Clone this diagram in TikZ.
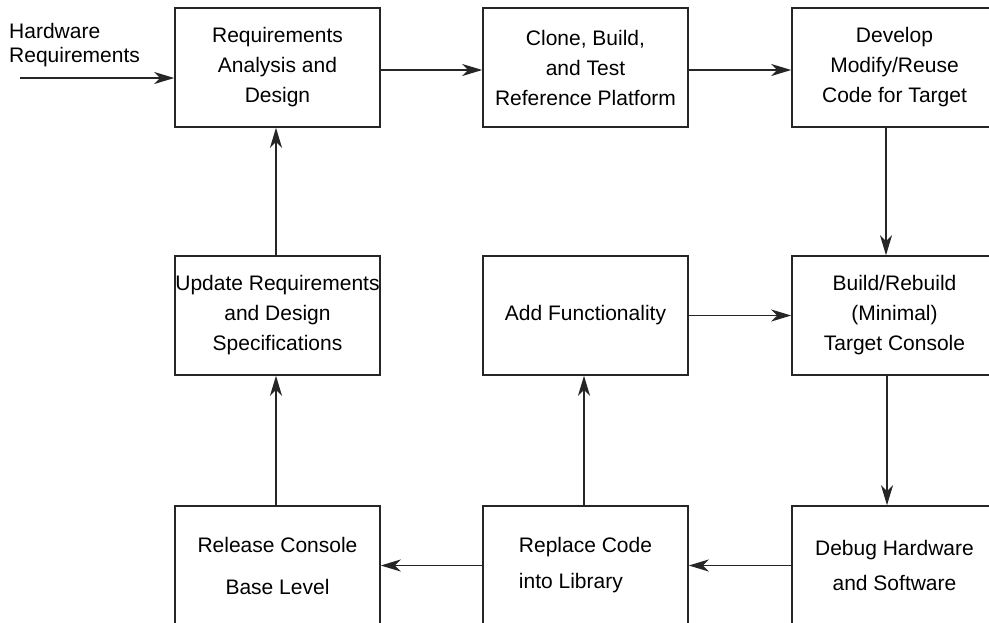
\documentclass[tikz,border=0pt]{standalone}
\usepackage{fontspec}
\setmainfont{Liberation Sans}
\usetikzlibrary{arrows.meta}
\begin{document}
\begin{tikzpicture}[x=1pt,y=-1pt,
  stage/.style={draw=black!85, line width=1.5pt, minimum width=205pt,
    minimum height=119pt, inner sep=0pt, align=center,
    font=\fontsize{21}{30}\selectfont},
  flow/.style={draw=black!85, line width=1.5pt,
    -{Stealth[length=20pt,width=12pt,inset=6pt]}},
]
\useasboundingbox (0,0) rectangle (989,622);
\clip (0,0) rectangle (989,622);

% top row
\node[stage] (req)   at (277.5,67.5) {Requirements\\Analysis and\\Design};
\node[stage] (clone) at (585.5,67.5) {Clone, Build,\\and Test\\Reference Platform};
\node[stage] (dev)   at (894.5,67.5) {Develop\\Modify/Reuse\\Code for Target};

% middle row
\node[stage] (upd) at (277.5,315.5) {Update Requirements\\and Design\\Specifications};
\node[stage] (add) at (585.5,315.5) {Add Functionality};
\node[stage] (bld) at (894.5,315.5) {Build/Rebuild\\(Minimal)\\Target Console};

% bottom row
\node[stage, font=\fontsize{21}{42}\selectfont] (rel) at (277.5,565.5)
  {Release Console\\Base Level};
\node[stage, align=left, font=\fontsize{21}{36}\selectfont] (rep) at (585.5,565.5)
  {Replace Code\\into Library};
\node[stage, font=\fontsize{21}{35}\selectfont] (dbg) at (894.5,565.5)
  {Debug Hardware\\and Software};

% external input
\node[anchor=west, align=left, inner sep=0pt,
  font=\fontsize{21}{24}\selectfont] (hw) at (9,45) {Hardware\\Requirements};
\coordinate (hwin) at (20,78);
\draw[flow] (hwin) -- (req.west |- hwin);

% forward path
\draw[flow] ([yshift=-2.5pt]req.east) -- ([yshift=-2.5pt]clone.west);
\draw[flow] ([yshift=-2.5pt]clone.east) -- ([yshift=-2.5pt]dev.west);
\draw[flow] ([xshift=-8.5pt]dev.south) -- ([xshift=-8.5pt]bld.north);
\draw[flow] ([xshift=-7.5pt]bld.south) -- ([xshift=-7.5pt]dbg.north);
\draw[flow] (dbg.west) -- (rep.east);
\draw[flow] (rep.west) -- (rel.east);

% feedback paths
\draw[flow] ([xshift=-1.5pt]rep.north) -- ([xshift=-1.5pt]add.south);
\draw[flow] (add.east) -- (bld.west);
\draw[flow] ([xshift=-1.5pt]rel.north) -- ([xshift=-1.5pt]upd.south);
\draw[flow] ([xshift=-1.5pt]upd.north) -- ([xshift=-1.5pt]req.south);
\end{tikzpicture}
\end{document}
